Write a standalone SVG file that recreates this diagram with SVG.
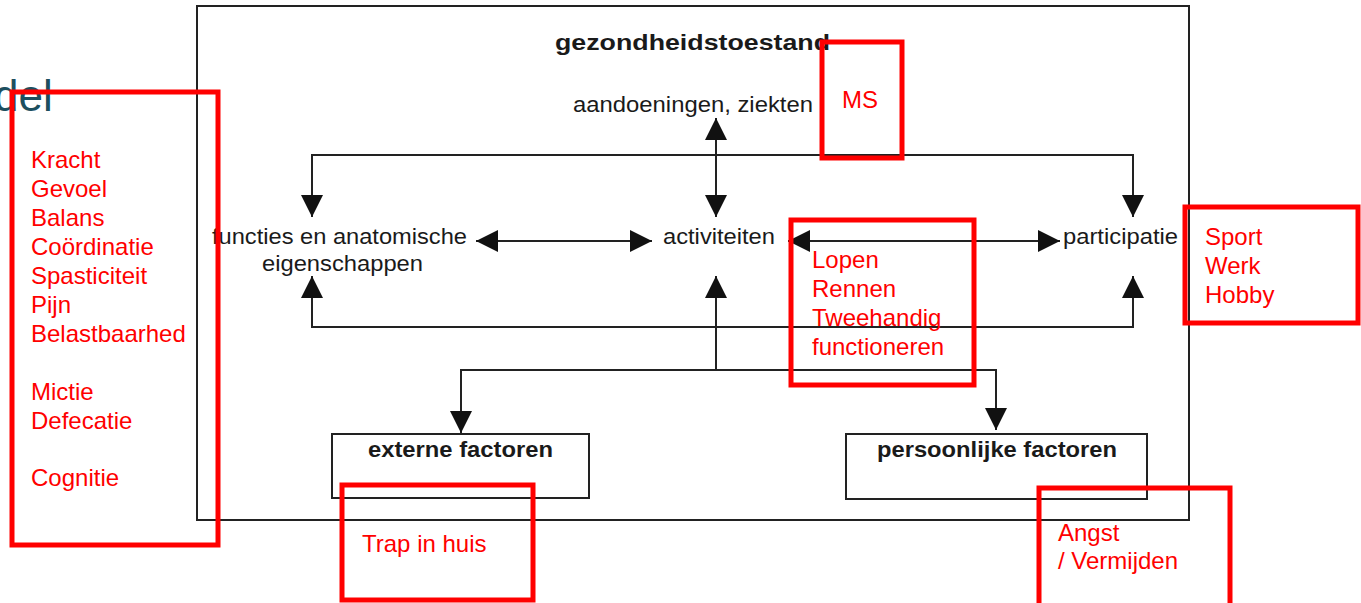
<svg xmlns="http://www.w3.org/2000/svg" width="1361" height="603" viewBox="0 0 1361 603">
<style>
.t{font-family:"Liberation Sans",Arial,sans-serif;font-size:22px;fill:#1a1a1a}
.b{font-weight:bold}
.r{font-family:"Liberation Sans",Arial,sans-serif;font-size:24px;fill:#ff0000}
.box{fill:none;stroke:#222;stroke-width:2}
.rb{fill:none;stroke:#ff0000;stroke-width:5}
.c{fill:none;stroke:#222;stroke-width:2}
</style>
<defs>
<marker id="ah" markerUnits="userSpaceOnUse" markerWidth="24" markerHeight="24" refX="22" refY="11" orient="auto-start-reverse">
<path d="M0,0 L22,11 L0,22 z" fill="#111"/>
</marker>
</defs>
<rect width="1361" height="603" fill="#fff"/>
<text x="-6" y="111" style="font-family:'Liberation Sans',Arial,sans-serif;font-size:44px;fill:#1d4f5f">del</text>
<g id="health">
<rect class="box" x="197" y="6" width="992" height="514"/>
<text class="t b" x="555" y="50" font-size="24" textLength="275" lengthAdjust="spacingAndGlyphs">gezondheidstoestand</text>
</g>
<g id="aandoeningen"><text class="t" x="573" y="112" textLength="240" lengthAdjust="spacingAndGlyphs">aandoeningen, ziekten</text></g>
<g id="functies">
<text class="t" x="212" y="244" textLength="255" lengthAdjust="spacingAndGlyphs">functies en anatomische</text>
<text class="t" x="262" y="271" textLength="161" lengthAdjust="spacingAndGlyphs">eigenschappen</text>
</g>
<g id="activiteiten"><text class="t" x="663" y="244" textLength="112" lengthAdjust="spacingAndGlyphs">activiteiten</text></g>
<g id="participatie"><text class="t" x="1063" y="244" textLength="115" lengthAdjust="spacingAndGlyphs">participatie</text></g>
<g id="externe">
<rect class="box" x="332" y="434" width="257" height="64"/>
<text class="t b" x="368" y="457" font-size="22.5" textLength="185" lengthAdjust="spacingAndGlyphs">externe factoren</text>
</g>
<g id="persoonlijke">
<rect class="box" x="846" y="434" width="301" height="65"/>
<text class="t b" x="877" y="457" font-size="22.5" textLength="240" lengthAdjust="spacingAndGlyphs">persoonlijke factoren</text>
</g>
<g id="connectors">
<path class="c" d="M312,217 V155 H1133 V217" marker-start="url(#ah)" marker-end="url(#ah)"/>
<path class="c" d="M716,118 V217" marker-start="url(#ah)" marker-end="url(#ah)"/>
<path class="c" d="M312,276 V327 H1133 V276" marker-start="url(#ah)" marker-end="url(#ah)"/>
<path class="c" d="M476,241 H652" marker-start="url(#ah)" marker-end="url(#ah)"/>
<path class="c" d="M788,241 H1060" marker-start="url(#ah)" marker-end="url(#ah)"/>
<path class="c" d="M716,370 V276" marker-end="url(#ah)"/>
<path class="c" d="M461,433 V370 H996 V430" marker-start="url(#ah)" marker-end="url(#ah)"/>
</g>
<g id="note-functies">
<rect class="rb" x="12" y="92" width="206" height="453"/>
<text class="r" x="31" y="168">Kracht</text>
<text class="r" x="31" y="197">Gevoel</text>
<text class="r" x="31" y="226">Balans</text>
<text class="r" x="31" y="255">Coördinatie</text>
<text class="r" x="31" y="284">Spasticiteit</text>
<text class="r" x="31" y="313">Pijn</text>
<text class="r" x="31" y="342">Belastbaarhed</text>
<text class="r" x="31" y="400">Mictie</text>
<text class="r" x="31" y="429">Defecatie</text>
<text class="r" x="31" y="486">Cognitie</text>
</g>
<g id="note-ms">
<rect class="rb" x="822" y="42" width="80" height="116"/>
<text class="r" x="842" y="108">MS</text>
</g>
<g id="note-activiteiten">
<rect class="rb" x="791" y="220" width="183" height="165"/>
<text class="r" x="812" y="268">Lopen</text>
<text class="r" x="812" y="297">Rennen</text>
<text class="r" x="812" y="326">Tweehandig</text>
<text class="r" x="812" y="355">functioneren</text>
</g>
<g id="note-participatie">
<rect class="rb" x="1185" y="207" width="173" height="116"/>
<text class="r" x="1205" y="245">Sport</text>
<text class="r" x="1205" y="274">Werk</text>
<text class="r" x="1205" y="303">Hobby</text>
</g>
<g id="note-externe">
<rect class="rb" x="342" y="485" width="191" height="115"/>
<text class="r" x="362" y="552">Trap in huis</text>
</g>
<g id="note-persoonlijke">
<rect class="rb" x="1039" y="488" width="191" height="118"/>
<text class="r" x="1058" y="541">Angst</text>
<text class="r" x="1058" y="569">/ Vermijden</text>
</g>
</svg>
